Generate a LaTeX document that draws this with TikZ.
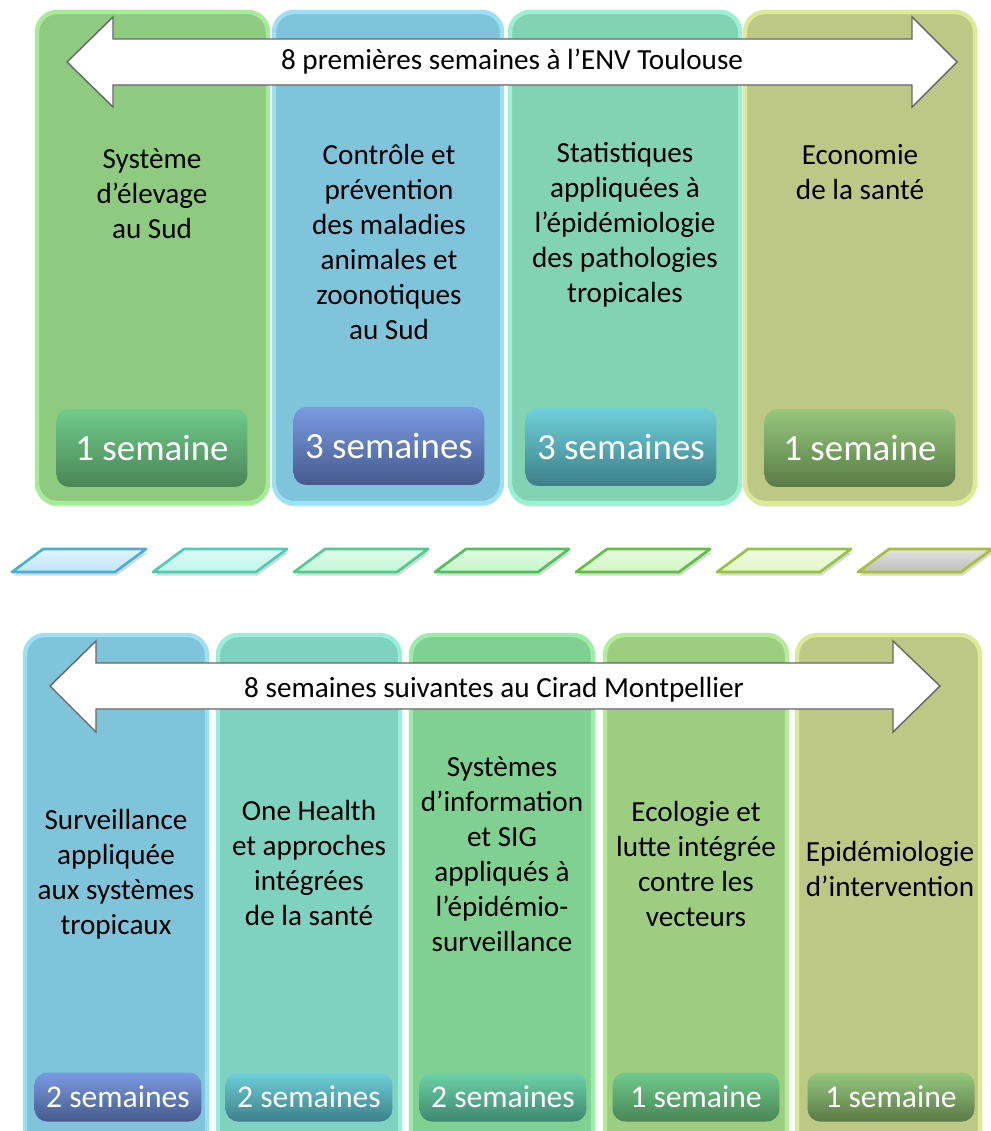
\documentclass[tikz,border=0pt]{standalone}
\usepackage{fontspec}
\setmainfont{Carlito}
\usetikzlibrary{shadows}

% column colours
\definecolor{colGreen}{HTML}{8ECB80}
\definecolor{colGreenRim}{HTML}{A6EC98}
\definecolor{colBlue}{HTML}{80C4DB}
\definecolor{colBlueRim}{HTML}{9CE0F8}
\definecolor{colTeal}{HTML}{82D2B4}
\definecolor{colTealRim}{HTML}{9AF0D2}
\definecolor{colSea}{HTML}{80D2C0}
\definecolor{colSeaRim}{HTML}{98F0DC}
\definecolor{colLeaf}{HTML}{80D092}
\definecolor{colLeafRim}{HTML}{9AEEA8}
\definecolor{colMoss}{HTML}{9CCD80}
\definecolor{colMossRim}{HTML}{B4EC98}
\definecolor{colOlive}{HTML}{BEC886}
\definecolor{colOliveRim}{HTML}{DCEA96}

% duration box colours
\definecolor{wkGreenT}{HTML}{70CB8C}
\definecolor{wkGreenB}{HTML}{4A8556}
\definecolor{wkBlueT}{HTML}{7A9BE3}
\definecolor{wkBlueB}{HTML}{465A8C}
\definecolor{wkTealT}{HTML}{6ED0DA}
\definecolor{wkTealB}{HTML}{3E7F88}
\definecolor{wkLeafT}{HTML}{6ED2A8}
\definecolor{wkLeafB}{HTML}{3E8870}
\definecolor{wkOliveT}{HTML}{96C87E}
\definecolor{wkOliveB}{HTML}{5A7A46}

% tile colours
\definecolor{tileEdgeA}{HTML}{4AAFD2}
\definecolor{tileEdgeB}{HTML}{4FCBB5}
\definecolor{tileEdgeC}{HTML}{4FCB92}
\definecolor{tileEdgeD}{HTML}{50C060}
\definecolor{tileEdgeE}{HTML}{62BE42}
\definecolor{tileEdgeF}{HTML}{95C243}
\definecolor{tileEdgeG}{HTML}{A9BE35}
\definecolor{tileFillA}{HTML}{BCE6FA}
\definecolor{tileFillB}{HTML}{BCF6EA}
\definecolor{tileFillC}{HTML}{C0F6D4}
\definecolor{tileFillD}{HTML}{C4F6C4}
\definecolor{tileFillE}{HTML}{CEF6BE}
\definecolor{tileFillF}{HTML}{E0F6C4}
\definecolor{tileFillG}{HTML}{BDBDBD}

\tikzset{
  column/.style={rounded corners=0.4cm, line width=2.5pt,
    drop shadow={shadow xshift=0pt, shadow yshift=-2pt, opacity=.25}},
  course/.style={align=center, inner sep=0pt,
    font=\fontsize{16.6}{19.9}\selectfont},
  weeks/.style={rounded corners=0.25cm, text=white, inner sep=0pt,
    minimum width=3.82cm, minimum height=1.56cm,
    font=\fontsize{21}{25}\selectfont},
  weekssmall/.style={weeks, minimum width=3.34cm, minimum height=0.98cm,
    font=\fontsize{18}{22}\selectfont},
  spanarrow/.style={fill=white, draw=black!60, line width=0.8pt},
  spanlabel/.style={inner sep=0pt, font=\fontsize{16.6}{19.9}\selectfont},
  tile/.style={line width=1.5pt, line join=round,
    drop shadow={shadow xshift=1pt, shadow yshift=-2pt, opacity=.3}}
}

\begin{document}
\begin{tikzpicture}[x=0.02cm, y=-0.02cm]
    % Page
    \useasboundingbox (0,0) rectangle (990,1131);
    \fill[white] (0,0) rectangle (990,1131);

    % Top row: ENV Toulouse
    \filldraw[column, fill=colGreen, draw=colGreenRim] (37,12) rectangle (268,503);
    \filldraw[column, fill=colBlue, draw=colBlueRim] (274,12) rectangle (502,503);
    \filldraw[column, fill=colTeal, draw=colTealRim] (510,12) rectangle (740,503);
    \filldraw[column, fill=colOlive, draw=colOliveRim] (745,12) rectangle (975,503);

    % Span arrow (top)
    \draw[spanarrow] (67,62) -- (113,17) -- (113,39) -- (912,39) -- (912,17)
                     -- (957,62) -- (912,107) -- (912,85) -- (113,85) -- (113,107) -- cycle;
    \node[spanlabel] (toplabel) at (512,62) {8 premières semaines à l’ENV Toulouse};

    % Courses (top)
    \node[course] (course1) at (152,194) {Système\\d’élevage\\au Sud};
    \node[course] (course2) at (389,242) {Contrôle et\\prévention\\des maladies\\animales et\\zoonotiques\\au Sud};
    \node[course] (course3) at (625,225) {Statistiques\\appliquées à\\l’épidémiologie\\des pathologies\\tropicales};
    \node[course] (course4) at (860,172) {Economie\\de la santé};

    % Durations (top)
    \node[weeks, top color=wkGreenT, bottom color=wkGreenB] (weeks1) at (152,448) {1 semaine};
    \node[weeks, top color=wkBlueT, bottom color=wkBlueB] (weeks2) at (389,446) {3 semaines};
    \node[weeks, top color=wkTealT, bottom color=wkTealB] (weeks3) at (621,447) {3 semaines};
    \node[weeks, top color=wkOliveT, bottom color=wkOliveB] (weeks4) at (860,448) {1 semaine};

    % Separator tiles
    \foreach \k/\edge/\inner in {0/tileEdgeA/tileFillA, 1/tileEdgeB/tileFillB,
        2/tileEdgeC/tileFillC, 3/tileEdgeD/tileFillD, 4/tileEdgeE/tileFillE,
        5/tileEdgeF/tileFillF, 6/tileEdgeG/tileFillG} {
      \filldraw[tile, draw=\edge, top color=\inner!45!white, bottom color=\inner]
        ({12+141*\k},572) -- ++(31,-23) -- ++(103,0) -- ++(-31,23) -- cycle;
    }

    % Bottom row: Cirad Montpellier
    \filldraw[column, fill=colBlue, draw=colBlueRim] (25,635) rectangle (207,1160);
    \filldraw[column, fill=colSea, draw=colSeaRim] (218,635) rectangle (400,1160);
    \filldraw[column, fill=colLeaf, draw=colLeafRim] (411,635) rectangle (593,1160);
    \filldraw[column, fill=colMoss, draw=colMossRim] (605,635) rectangle (787,1160);
    \filldraw[column, fill=colOlive, draw=colOliveRim] (797,635) rectangle (980,1160);

    % Span arrow (bottom)
    \draw[spanarrow] (50,686) -- (96,641) -- (96,663) -- (893,663) -- (893,641)
                     -- (940,686) -- (893,732) -- (893,709) -- (96,709) -- (96,732) -- cycle;
    \node[spanlabel] (bottomlabel) at (494,690) {8 semaines suivantes au Cirad Montpellier};

    % Courses (bottom)
    \node[course] (course5) at (116,874) {Surveillance\\appliquée\\aux systèmes\\tropicaux};
    \node[course] (course6) at (309,863) {One Health\\et approches\\intégrées\\de la santé};
    \node[course] (course7) at (502,854) {Systèmes\\d’information\\et SIG\\appliqués à\\l’épidémio-\\surveillance};
    \node[course] (course8) at (696,864) {Ecologie et\\lutte intégrée\\contre les\\vecteurs};
    \node[course] (course9) at (890,869) {Epidémiologie\\d’intervention};

    % Durations (bottom)
    \node[weekssmall, top color=wkBlueT, bottom color=wkBlueB] (weeks5) at (118,1097) {2 semaines};
    \node[weekssmall, top color=wkTealT, bottom color=wkTealB] (weeks6) at (309,1097) {2 semaines};
    \node[weekssmall, top color=wkLeafT, bottom color=wkLeafB] (weeks7) at (503,1097) {2 semaines};
    \node[weekssmall, top color=wkGreenT, bottom color=wkGreenB] (weeks8) at (696,1097) {1 semaine};
    \node[weekssmall, top color=wkOliveT, bottom color=wkOliveB] (weeks9) at (891,1097) {1 semaine};
\end{tikzpicture}
\end{document}
